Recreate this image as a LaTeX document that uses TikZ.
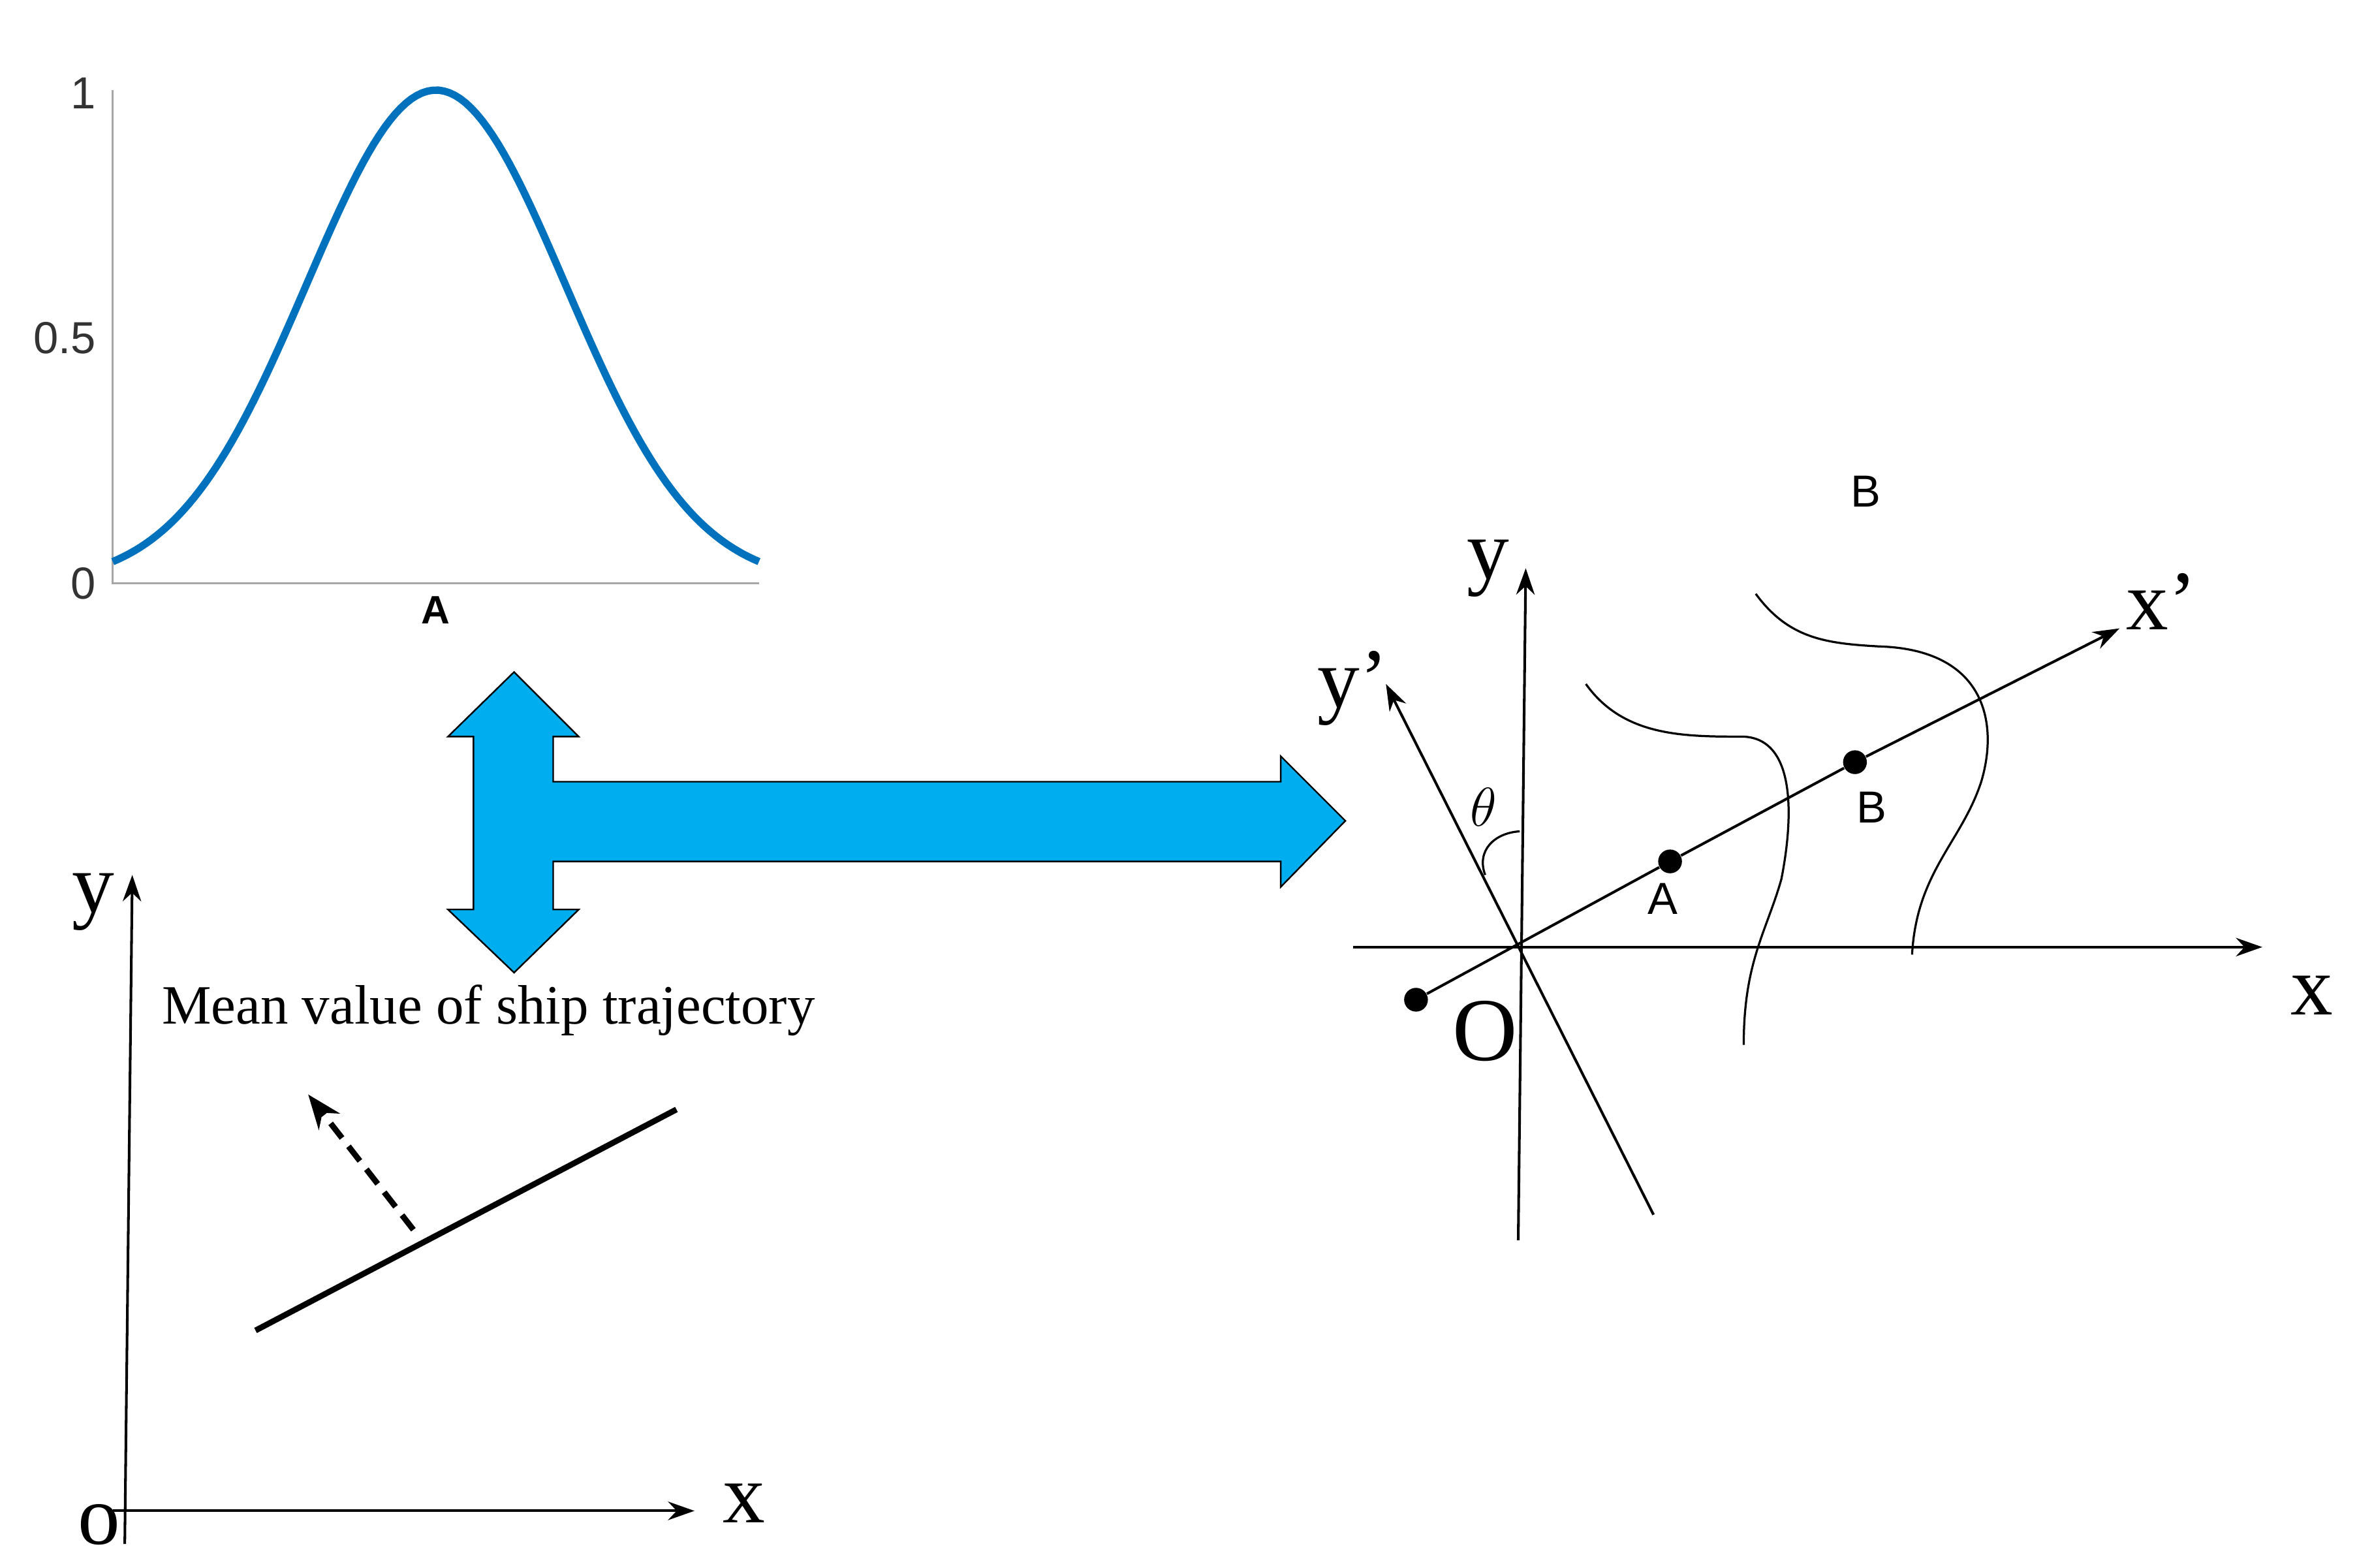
\documentclass[tikz,border=0pt]{standalone}
\usepackage{fontspec}
\setmainfont{Liberation Serif}
\newfontfamily\sans{Liberation Sans}
\usetikzlibrary{arrows.meta}
\begin{document}
\begin{tikzpicture}[x=0.02cm,y=-0.02cm,
  ax/.style={line width=1pt,-{Stealth[length=10pt,width=7pt]}},
  thin/.style={line width=0.8pt},
  dot/.style={circle,fill=black,inner sep=0pt,minimum size=9pt},
  big/.style={font=\fontsize{32}{32}\selectfont},
  lab/.style={font=\sans\fontsize{17}{17}\selectfont}]
\useasboundingbox (0,0) rectangle (1568,1043);
% gaussian plot
\draw[gray!70,line width=0.8pt] (75,60) -- (75,388) -- (505,388);
\foreach \yy/\t in {62/1,225/0.5,388/0}{\node[lab,gray!40!black,anchor=east] (t\yy) at (70,\yy) {\t};}
\node[lab,font=\sans\bfseries\fontsize{15}{15}\selectfont] (gA) at (290,406) {A};
\draw[color={rgb,255:red,0;green,114;blue,189},line width=2.8pt,domain=-2.5:2.5,samples=120]
  plot ({290+86*\x},{388-328*exp(-(\x*\x)/2)});
% blue arrow
\draw[fill={rgb,255:red,0;green,174;blue,239},line width=0.6pt]
 (342,447) -- (385,490) -- (368,490) -- (368,520) -- (852,520) -- (852,503) -- (895,546)
 -- (852,590) -- (852,573) -- (368,573) -- (368,605) -- (385,605) -- (342,647)
 -- (298,605) -- (315,605) -- (315,490) -- (298,490) -- cycle;
% bottom-left axes
\coordinate (y0) at (83,1027); \coordinate (y1) at (88,582);
\coordinate (x0) at (75,1005); \coordinate (x1) at (462,1005);
\draw[ax] (y0) -- (y1); \draw[ax] (x0) -- (x1);
\node[big] (ly) at (62,600) {y};
\node[big] (lx) at (495,1000) {x};
\node[big] (lo) at (66,1014) {o};
\node[font=\fontsize{21}{21}\selectfont] (mv) at (325,672) {Mean value of ship trajectory};
\coordinate (m0) at (170,885); \coordinate (m1) at (450,738);
\draw[line width=2.2pt] (m0) -- (m1);
\coordinate (d0) at (275,818); \coordinate (d1) at (205,728);
\draw[line width=2.2pt,dash pattern=on 7pt off 4pt,-{Stealth[length=13pt,width=10pt]}] (d0) -- (d1);
% right diagram
\coordinate (X0) at (900,630); \coordinate (X1) at (1505,630);
\coordinate (Y0) at (1010,825); \coordinate (Y1) at (1015,378);
\coordinate (Yp0) at (1100,808); \coordinate (Yp1) at (922,455);
\draw[ax] (X0) -- (X1); \draw[ax] (Y0) -- (Y1); \draw[ax] (Yp0) -- (Yp1);
\node[dot] (P0) at (942,665) {};
\node[dot] (PA) at (1111,573) {};
\node[dot] (PB) at (1234,507) {};
\coordinate (Xp1) at (1410,418);
\draw[ax] (P0) -- (PA) -- (PB) -- (Xp1);
\node[big] (rx) at (1538,662) {x};
\node[big] (ry) at (990,378) {y};
\node[big] (ryp) at (900,458) {y’};
\node[big] (rxp) at (1438,400) {x’};
\node[big,font=\fontsize{34}{34}\selectfont] (rO) at (988,686) {O};
\node[lab] (lA) at (1106,598) {A};
\node[lab] (lB) at (1245,537) {B};
\node[lab] (lB2) at (1241,327) {B};
\node[font=\itshape\fontsize{22}{22}\selectfont] (th) at (987,537) {$\theta$};
\draw[thin] (988,582) .. controls (982,566) and (994,554) .. (1011,553);
\draw[thin] (1055,455) .. controls (1080,490) and (1120,490) .. (1160,490)
  .. controls (1200,492) and (1190,560) .. (1185,585)
  .. controls (1175,620) and (1160,640) .. (1160,695);
\draw[thin] (1168,395) .. controls (1190,425) and (1215,428) .. (1250,430)
  .. controls (1320,432) and (1330,480) .. (1318,520)
  .. controls (1305,560) and (1275,580) .. (1272,635);
\end{tikzpicture}
\end{document}
